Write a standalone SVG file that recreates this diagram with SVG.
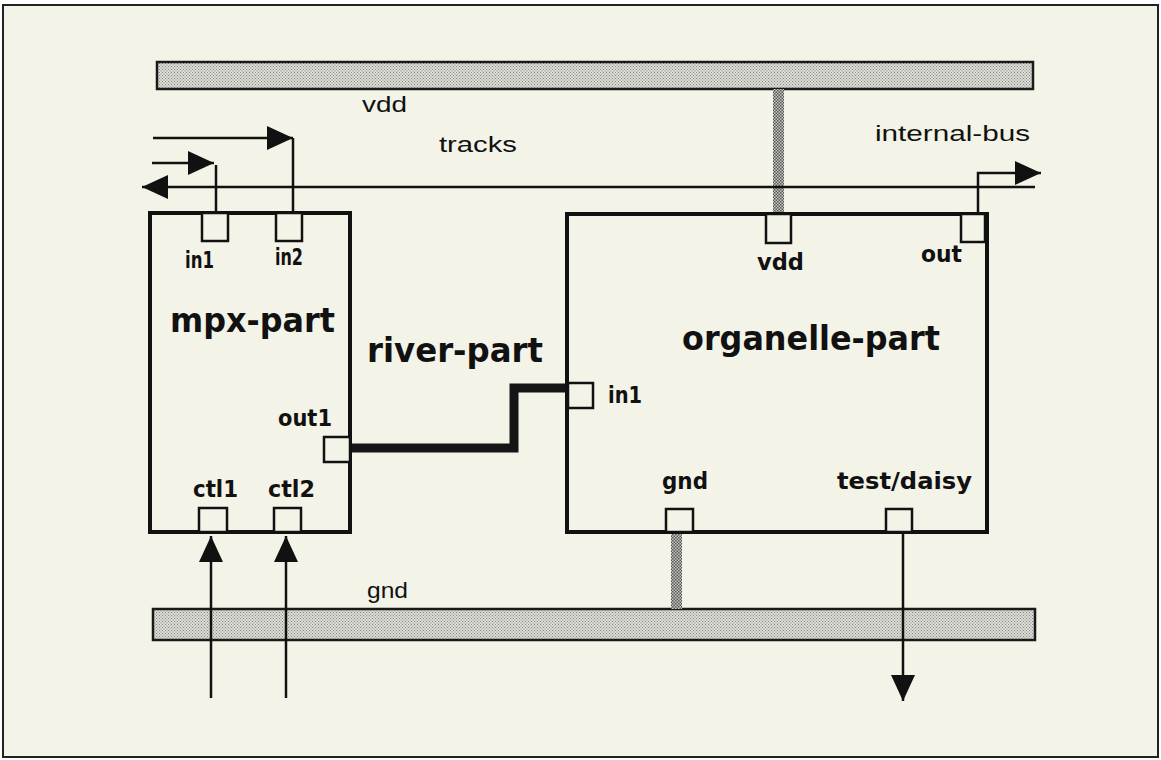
<svg xmlns="http://www.w3.org/2000/svg" width="1161" height="760" viewBox="0 0 1161 760">
  <defs>
    <pattern id="stipple" width="3" height="3" patternUnits="userSpaceOnUse">
      <rect width="3" height="3" fill="#dcdcd6"/>
      <rect x="0" y="0" width="1" height="1" fill="#8a8a86"/>
      <rect x="1.5" y="1.5" width="1" height="1" fill="#8a8a86"/>
    </pattern>
    <pattern id="stippleDark" width="3" height="3" patternUnits="userSpaceOnUse">
      <rect width="3" height="3" fill="#c8c8c2"/>
      <rect x="0" y="0" width="1.5" height="1.5" fill="#555"/>
      <rect x="1.5" y="1.5" width="1.5" height="1.5" fill="#555"/>
    </pattern>
    <marker id="arrow" markerUnits="userSpaceOnUse" markerWidth="27" markerHeight="25" refX="26" refY="12" orient="auto">
      <path d="M0,0 L26,12 L0,24 Z" fill="#111"/>
    </marker>
    <style>
      .frame { fill: #f3f3e8; stroke: #222; stroke-width: 2; }
      .bar { fill: url(#stipple); stroke: #1a1a1a; stroke-width: 2.5; }
      .stub { fill: url(#stippleDark); stroke: none; }
      .box { fill: none; stroke: #111; stroke-width: 4; }
      .port { fill: #f3f3e8; stroke: #111; stroke-width: 2.5; }
      .wire { fill: none; stroke: #111; stroke-width: 2.5; }
      .river { fill: none; stroke: #151515; stroke-width: 9; stroke-linejoin: miter; }
      .plain { font-family: "Liberation Sans", Arial, sans-serif; font-size: 22px; fill: #111; }
      .big { font-family: "DejaVu Sans", "Liberation Sans", sans-serif; font-weight: bold; font-size: 33px; fill: #111; }
      .plab { font-family: "DejaVu Sans", "Liberation Sans", sans-serif; font-weight: bold; font-size: 23px; fill: #111; }
    </style>
  </defs>

  <rect class="frame" x="3" y="5" width="1155" height="752"/>

  <g id="vdd-rail">
    <rect class="bar" x="157" y="62" width="876" height="27"/>
    <text class="plain" x="362" y="112" textLength="45" lengthAdjust="spacingAndGlyphs">vdd</text>
  </g>

  <g id="gnd-rail">
    <rect class="bar" x="153" y="609" width="882" height="31"/>
    <text class="plain" x="367" y="598" textLength="41" lengthAdjust="spacingAndGlyphs">gnd</text>
  </g>

  <g id="tracks-label">
    <text class="plain" x="439" y="152" textLength="78" lengthAdjust="spacingAndGlyphs">tracks</text>
  </g>

  <g id="internal-bus-label">
    <text class="plain" x="875" y="141" textLength="155" lengthAdjust="spacingAndGlyphs">internal-bus</text>
  </g>

  <g id="connectors">
    <rect class="stub" x="773" y="89" width="11" height="125"/>
    <rect class="stub" x="671" y="532" width="11" height="77"/>
    <path class="wire" d="M153,138 H293" marker-end="url(#arrow)"/>
    <path class="wire" d="M293,138 V213"/>
    <path class="wire" d="M152,163 H214" marker-end="url(#arrow)"/>
    <path class="wire" d="M216,165 V213"/>
    <path class="wire" d="M1035,187 H142" marker-end="url(#arrow)"/>
    <path class="wire" d="M978,214 V173 H1041" marker-end="url(#arrow)"/>
    <path class="river" d="M350,448 H514 V388 H568"/>
    <path class="wire" d="M903,532 V701" marker-end="url(#arrow)"/>
    <path class="wire" d="M211,698 V536" marker-end="url(#arrow)"/>
    <path class="wire" d="M286,698 V536" marker-end="url(#arrow)"/>
  </g>

  <g id="mpx-part">
    <rect class="box" x="150" y="213" width="200" height="319"/>
    <rect class="port" x="202" y="213" width="26" height="28"/>
    <rect class="port" x="276" y="213" width="26" height="28"/>
    <rect class="port" x="324" y="437" width="26" height="25"/>
    <rect class="port" x="199" y="508" width="28" height="24"/>
    <rect class="port" x="274" y="508" width="27" height="24"/>
    <text class="plab" x="185" y="268" textLength="29" lengthAdjust="spacingAndGlyphs">in1</text>
    <text class="plab" x="275" y="265" textLength="28" lengthAdjust="spacingAndGlyphs">in2</text>
    <text class="big" x="170" y="332" textLength="165" lengthAdjust="spacingAndGlyphs">mpx-part</text>
    <text class="plab" x="278" y="426" textLength="54" lengthAdjust="spacingAndGlyphs">out1</text>
    <text class="plab" x="193" y="497" textLength="45" lengthAdjust="spacingAndGlyphs">ctl1</text>
    <text class="plab" x="268" y="497" textLength="47" lengthAdjust="spacingAndGlyphs">ctl2</text>
  </g>

  <g id="river-part">
    <text class="big" x="367" y="362" textLength="176" lengthAdjust="spacingAndGlyphs">river-part</text>
  </g>

  <g id="organelle-part">
    <rect class="box" x="567" y="214" width="420" height="318"/>
    <rect class="port" x="766" y="214" width="25" height="29"/>
    <rect class="port" x="961" y="214" width="24" height="28"/>
    <rect class="port" x="568" y="383" width="25" height="25"/>
    <rect class="port" x="666" y="509" width="27" height="23"/>
    <rect class="port" x="886" y="509" width="26" height="23"/>
    <text class="plab" x="757" y="270" textLength="47" lengthAdjust="spacingAndGlyphs">vdd</text>
    <text class="plab" x="921" y="262" textLength="41" lengthAdjust="spacingAndGlyphs">out</text>
    <text class="big" x="682" y="350" textLength="258" lengthAdjust="spacingAndGlyphs">organelle-part</text>
    <text class="plab" x="608" y="403" textLength="34" lengthAdjust="spacingAndGlyphs">in1</text>
    <text class="plab" x="662" y="489" textLength="46" lengthAdjust="spacingAndGlyphs">gnd</text>
    <text class="plab" x="837" y="489" textLength="135" lengthAdjust="spacingAndGlyphs">test/daisy</text>
  </g>
</svg>
